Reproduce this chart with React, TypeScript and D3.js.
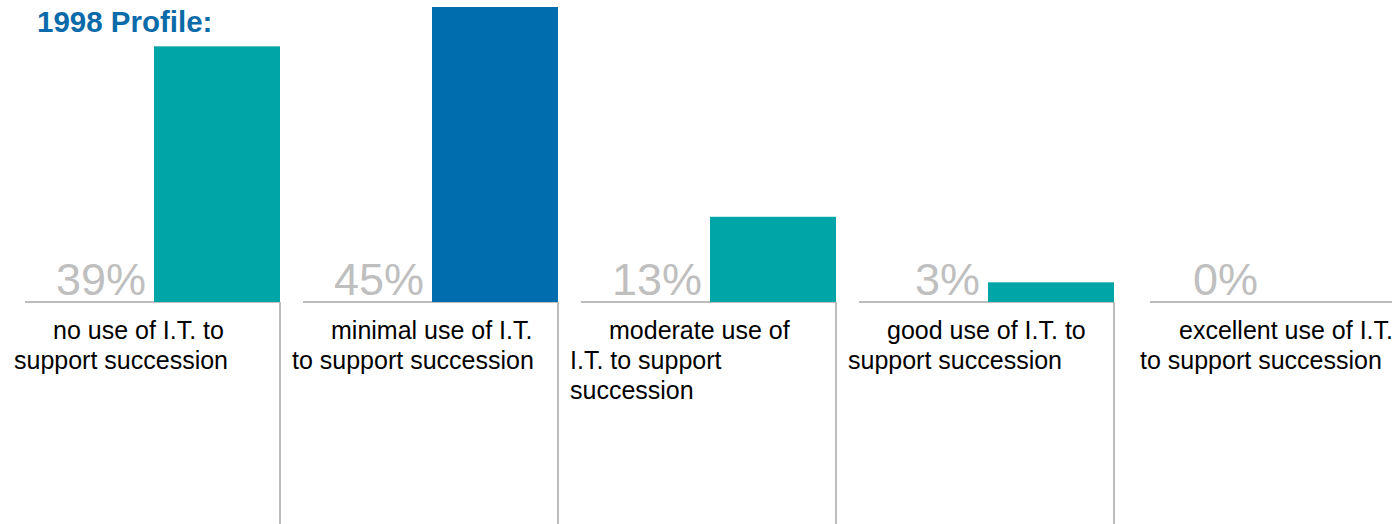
import React from "react";
import * as d3 from "d3";

const title = "1998 Profile:";
const categories = [
  "no use of I.T. to|support succession",
  "minimal use of I.T.|to support succession",
  "moderate use of|I.T. to support|succession",
  "good use of I.T. to|support succession",
  "excellent use of I.T.|to support succession",
];
const values = [39, 45, 13, 3, 0];
const barColors = ["#00A5A8", "#006DAE", "#00A5A8", "#00A5A8", "#00A5A8"];

const W = 1392;
const H = 524;
const BASE = 302;

export default function App() {
  const x = d3.scaleBand<string>().domain(categories).range([2, W]).padding(0);
  const y = d3.scaleLinear().domain([0, 45]).range([BASE, BASE - 295]);
  const bw = x.bandwidth();
  const barW = 126;
  const fmt = (v: number) => `${v}%`;

  return (
    <svg
      width={W}
      height={H}
      style={{ position: "absolute", left: 0, top: 0, background: "#fff" }}
      fontFamily="Liberation Sans, Arial, sans-serif"
    >
      <text x={37} y={32} fontSize={29.5} fontWeight="bold" fill="#0B6BAA">
        {title}
      </text>
      {categories.map((c, i) => {
        const x0 = x(c) as number;
        const x1 = x0 + bw;
        const bx = x1 - barW;
        const v = values[i];
        const lines = c.split("|");
        const last = i === categories.length - 1;
        return (
          <g key={c}>
            <line
              x1={x0 + (last ? 36 : 23)}
              x2={x1}
              y1={BASE}
              y2={BASE}
              stroke="#BDBDBD"
              strokeWidth={2}
            />
            {!last && (
              <line
                x1={x1}
                x2={x1}
                y1={BASE}
                y2={H}
                stroke="#BDBDBD"
                strokeWidth={2}
              />
            )}
            {v > 0 && (
              <rect
                x={bx}
                y={y(v)}
                width={barW}
                height={BASE - y(v)}
                fill={barColors[i]}
              />
            )}
            <text
              x={bx - 8}
              y={BASE - 7}
              textAnchor="end"
              fontSize={45}
              fill="#BFBFBF"
            >
              {fmt(v)}
            </text>
            <text fontSize={25} fill="#000">
              {lines.map((l, j) => (
                <tspan
                  key={j}
                  x={x0 + (last ? 26 : 12) + (j === 0 ? 39 : 0)}
                  y={339 + j * 30}
                >
                  {l}
                </tspan>
              ))}
            </text>
          </g>
        );
      })}
    </svg>
  );
}
